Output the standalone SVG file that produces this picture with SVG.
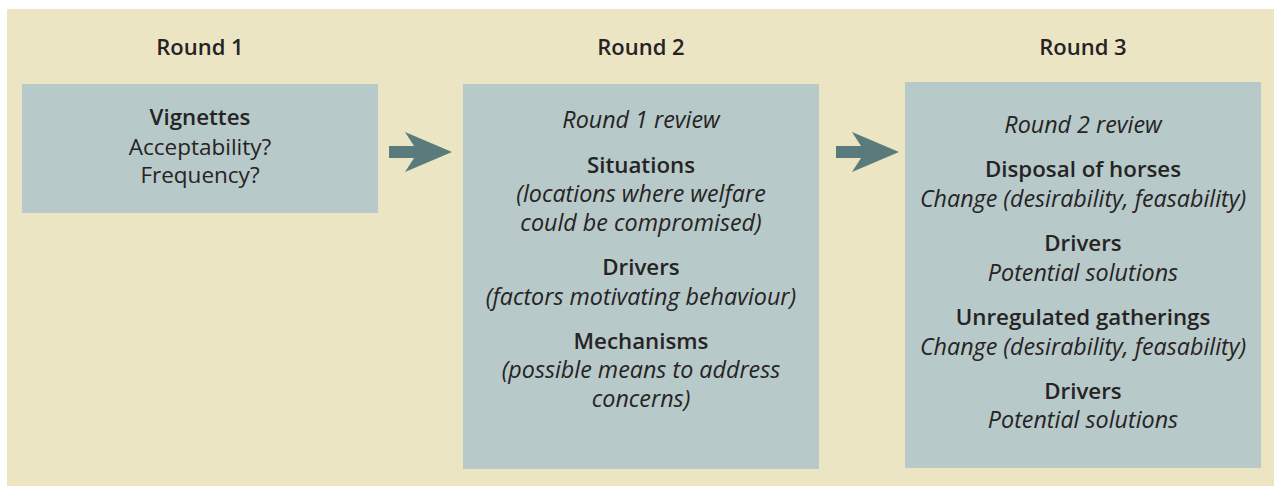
<svg xmlns="http://www.w3.org/2000/svg" width="1274" height="486" viewBox="0 0 1274 486">
<defs>
<style>
.bg{fill:#ECE5C3}
.box{fill:#B7C9C9}
.arrow{fill:#597B7B}
text{font-family:"Open Sans","Noto Sans",sans-serif;fill:#262324;text-anchor:middle;font-size:22.5px}
.h{font-weight:600;font-size:22px}
.b{font-weight:600;font-size:22.3px}
.i{font-style:italic;font-size:23.3px}
</style>
</defs>
<rect class="bg" x="7" y="9" width="1267" height="477"/>
<g id="headers">
<text class="h" x="200" y="55">Round 1</text>
<text class="h" x="641" y="55">Round 2</text>
<text class="h" x="1083" y="55">Round 3</text>
</g>
<g id="round1">
<rect class="box" x="22" y="84" width="356" height="129"/>
<text class="b" x="200" y="125">Vignettes</text>
<text x="200" y="155">Acceptability?</text>
<text x="200" y="183">Frequency?</text>
</g>
<g id="round2">
<rect class="box" x="463" y="84" width="356" height="385"/>
<text class="i" x="641" y="128">Round 1 review</text>
<text class="b" x="641" y="173">Situations</text>
<text class="i" x="641" y="202">(locations where welfare</text>
<text class="i" x="641" y="231">could be compromised)</text>
<text class="b" x="641" y="275">Drivers</text>
<text class="i" x="641" y="305">(factors motivating behaviour)</text>
<text class="b" x="641" y="349">Mechanisms</text>
<text class="i" x="641" y="378">(possible means to address</text>
<text class="i" x="641" y="407">concerns)</text>
</g>
<g id="round3">
<rect class="box" x="905" y="82" width="356" height="386"/>
<text class="i" x="1083" y="133">Round 2 review</text>
<text class="b" x="1083" y="177">Disposal of horses</text>
<text class="i" x="1083" y="207">Change (desirability, feasability)</text>
<text class="b" x="1083" y="251">Drivers</text>
<text class="i" x="1083" y="281">Potential solutions</text>
<text class="b" x="1083" y="325">Unregulated gatherings</text>
<text class="i" x="1083" y="355">Change (desirability, feasability)</text>
<text class="b" x="1083" y="399">Drivers</text>
<text class="i" x="1083" y="428">Potential solutions</text>
</g>
<g id="connectors">
<polygon class="arrow" points="389,146 414,146 405,132 452,152 405,172 414,158 389,158"/>
<polygon class="arrow" points="836,146 861,146 852,132 899,152 852,172 861,158 836,158"/>
</g>
</svg>
